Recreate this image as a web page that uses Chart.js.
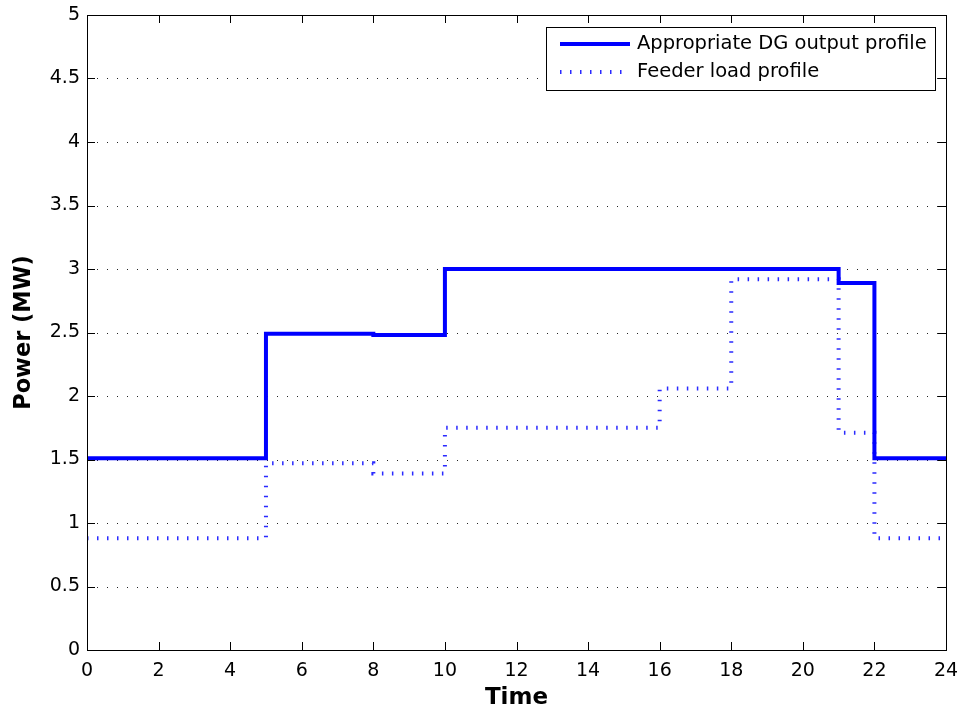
<!DOCTYPE html>
<html>
<head>
<meta charset="utf-8">
<title>DG output vs feeder load</title>
<script src="https://cdn.jsdelivr.net/npm/chart.js@4/dist/chart.umd.min.js"></script>
<style>
  html, body { margin: 0; padding: 0; background: #fff; }
  #wrap { width: 960px; height: 711px; }
</style>
</head>
<body>
<div id="wrap"><canvas id="powerChart" width="960" height="711"></canvas></div>
<script>
// hour at which each level starts, and the level (MW); last entry closes the day
const dgHours = [0, 5, 8, 10, 21, 22, 24];
const dgPower = [1.51, 2.49, 2.48, 3.0, 2.89, 1.51, 1.51];

const loadHours = [0, 5, 8, 10, 16, 18, 21, 22, 24];
const loadPower = [0.88, 1.47, 1.39, 1.75, 2.06, 2.92, 1.71, 0.88, 0.88];

const xTicks = [0, 2, 4, 6, 8, 10, 12, 14, 16, 18, 20, 22, 24];
const yTicks = [0, 0.5, 1, 1.5, 2, 2.5, 3, 3.5, 4, 4.5, 5];

const FONT = '"DejaVu Sans", Verdana, sans-serif';

function toPoints(xs, ys) {
    return xs.map((x, i) => ({ x: x, y: ys[i] }));
}

// matlab-style frame: dotted y grid, box, ticks pointing inward, boxed legend
const framePlugin = {
    id: 'frame',
    beforeDatasetsDraw(chart) {
        const { ctx, chartArea: a, scales } = chart;
        ctx.save();
        ctx.strokeStyle = '#222';
        ctx.lineWidth = 1;
        ctx.setLineDash([1, 9]);
        yTicks.forEach(v => {
            if (v === 0 || v === 5) return;
            const y = Math.round(scales.y.getPixelForValue(v)) + 0.5;
            ctx.beginPath();
            ctx.moveTo(a.left, y);
            ctx.lineTo(a.right, y);
            ctx.stroke();
        });
        ctx.restore();
    },
    afterDatasetsDraw(chart) {
        const { ctx, chartArea: a, scales } = chart;
        const len = 8;
        ctx.save();
        ctx.strokeStyle = '#000';
        ctx.lineWidth = 1;
        ctx.setLineDash([]);
        ctx.beginPath();
        xTicks.forEach(v => {
            const x = Math.round(scales.x.getPixelForValue(v)) + 0.5;
            ctx.moveTo(x, a.bottom); ctx.lineTo(x, a.bottom - len);
            ctx.moveTo(x, a.top); ctx.lineTo(x, a.top + len);
        });
        yTicks.forEach(v => {
            const y = Math.round(scales.y.getPixelForValue(v)) + 0.5;
            ctx.moveTo(a.left, y); ctx.lineTo(a.left + len, y);
            ctx.moveTo(a.right, y); ctx.lineTo(a.right - len, y);
        });
        ctx.stroke();
        ctx.strokeRect(Math.round(a.left) + 0.5, Math.round(a.top) + 0.5,
            Math.round(a.right - a.left), Math.round(a.bottom - a.top));
        ctx.restore();
    },
    afterDraw(chart) {
        const { ctx } = chart;
        const box = { x: 546, y: 27, w: 389, h: 63 };
        ctx.save();
        ctx.fillStyle = '#fff';
        ctx.fillRect(box.x, box.y, box.w, box.h);
        ctx.strokeStyle = '#000';
        ctx.lineWidth = 1;
        ctx.strokeRect(box.x + 0.5, box.y + 0.5, box.w, box.h);
        ctx.font = '19.5px ' + FONT;
        ctx.textBaseline = 'middle';
        ctx.fillStyle = '#000';
        chart.data.datasets.forEach((ds, i) => {
            const y = box.y + 17 + i * 28;
            ctx.strokeStyle = ds.borderColor;
            ctx.lineWidth = ds.borderWidth;
            ctx.setLineDash(ds.borderDash || []);
            ctx.beginPath();
            ctx.moveTo(560, y);
            ctx.lineTo(630, y);
            ctx.stroke();
            ctx.setLineDash([]);
            ctx.fillText(ds.label, 637, y);
        });
        ctx.restore();
    }
};

const ctx = document.getElementById('powerChart').getContext('2d');
const chart = new Chart(ctx, {
    type: 'line',
    data: {
        datasets: [
            {
                label: 'Appropriate DG output profile',
                data: toPoints(dgHours, dgPower),
                stepped: true,
                borderColor: '#0000ff',
                borderWidth: 4,
                pointRadius: 0,
                fill: false
            },
            {
                label: 'Feeder load profile',
                data: toPoints(loadHours, loadPower),
                stepped: true,
                borderColor: '#2a2aff',
                borderWidth: 4,
                borderDash: [1.5, 8.5],
                pointRadius: 0,
                fill: false
            }
        ]
    },
    options: {
        responsive: false,
        animation: false,
        layout: { padding: { top: 15, right: 14, bottom: 0, left: 0 } },
        plugins: {
            legend: { display: false },
            tooltip: { enabled: false }
        },
        scales: {
            x: {
                type: 'linear',
                min: 0,
                max: 24,
                afterBuildTicks: s => { s.ticks = xTicks.map(v => ({ value: v })); },
                afterFit: s => { s.height = 61; s.paddingLeft = 0; s.paddingRight = 0; },
                grid: { display: false, drawTicks: false },
                border: { display: false },
                ticks: {
                    color: '#000', padding: 10, maxRotation: 0,
                    callback: v => String(v),
                    font: { family: FONT, size: 19 }
                },
                title: {
                    display: true,
                    text: 'Time',
                    color: '#000',
                    padding: { top: 0, bottom: -1 },
                    font: { family: FONT, size: 23, weight: 'bold' }
                }
            },
            y: {
                min: 0,
                max: 5,
                afterBuildTicks: s => { s.ticks = yTicks.map(v => ({ value: v })); },
                afterFit: s => { s.width = 87; s.paddingTop = 0; s.paddingBottom = 0; },
                grid: { display: false, drawTicks: false },
                border: { display: false },
                ticks: {
                    color: '#000', padding: 7,
                    callback: v => String(v),
                    font: { family: FONT, size: 19 }
                },
                title: {
                    display: true,
                    text: 'Power (MW)',
                    color: '#000',
                    padding: { top: 11, bottom: 0 },
                    font: { family: FONT, size: 22.5, weight: 'bold' }
                }
            }
        }
    },
    plugins: [framePlugin]
});
</script>
</body>
</html>
